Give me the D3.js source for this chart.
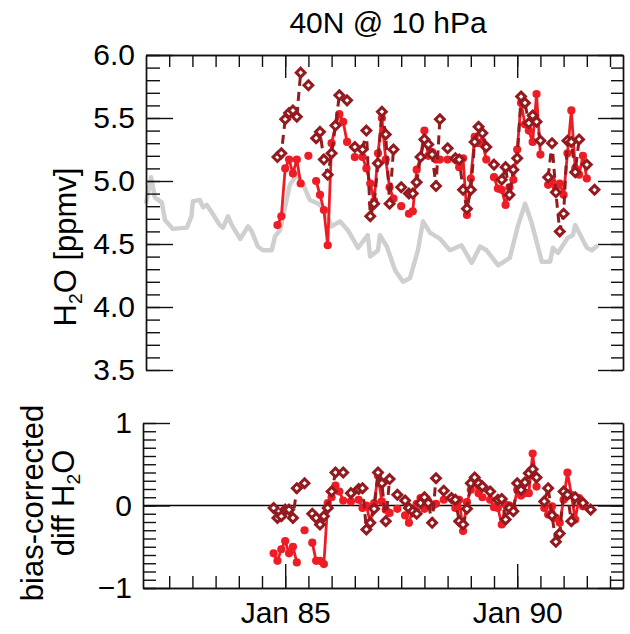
<!DOCTYPE html>
<html>
<head>
<meta charset="utf-8">
<script src="https://cdn.jsdelivr.net/npm/d3@7"></script>
<style>
body { margin: 0; background: #fff; }
svg { display: block; font-family: "Liberation Sans", Arial, Helvetica, sans-serif; }
</style>
</head>
<body>
<svg id="the-svg" width="630" height="634"></svg>
<script>
// monthly series: top panel starts Nov 1984, diff panel one month earlier
var topStart = 1984 + 10 / 12;
var diffStart = 1984 + 9 / 12;

var topRed = [
    4.65, 4.72, 5.10, 5.17, 5.06, 5.17, 4.98, null, 5.20, null,
    5.00, 4.89, 4.77, 4.49, 5.30, 5.44, 5.53, 5.47, 5.31, null,
    5.19, null, 5.19, 5.10, 4.98, 4.84, 5.22, 5.50, 5.17, 4.95,
    4.86, null, 4.80, null, 4.74, 4.76, 5.09, 5.19, 5.40, 5.20,
    5.23, 5.17, 5.17, null, 5.17, null, 5.17, 5.11, 5.18, 4.73,
    5.02, 5.35, 5.30, 5.31, 5.17, null, 5.03, 4.94, 4.93, 4.81,
    4.95, 5.01, 5.25, 5.62, 5.45, 5.40, 5.31, 5.69, 5.21, null,
    4.97, 5.00, 4.95, 4.98, 4.89, 5.22, 5.56, 5.10, 5.05, 5.20,
    5.02, null, null
];
var topDark = [
    5.19, 5.22, 5.49, 5.54, 5.56, 5.51, 5.86, null, 5.76, null,
    5.34, 5.39, 5.17, 5.05, 5.22, 5.44, 5.68, null, 5.64, null,
    5.27, null, 5.25, 5.40, 4.72, 4.82, 5.14, 5.55, 5.37, 4.82,
    5.25, null, 4.95, null, 4.90, 4.90, 4.99, 5.19, 5.33, 5.29,
    5.21, 4.96, 5.49, null, 5.26, null, 5.18, 5.17, 4.93, 4.78,
    4.93, 5.31, 5.43, 5.38, 5.27, null, 5.13, null, 5.01, 5.11,
    4.89, 5.09, 5.18, 5.67, 5.62, 5.46, 5.52, 5.47, 5.32, null,
    5.03, 5.30, 4.91, 4.60, 4.74, 5.32, 5.31, 5.07, 5.33, null,
    5.13, null, 4.93
];
var diffRed = [
    -0.58, -0.67, -0.53, -0.43, -0.58, -0.50, -0.69, null, -0.30, null,
    -0.45, -0.67, -0.67, -0.71, 0.03, 0.10, 0.24, 0.17, 0.06, null,
    0.05, null, 0.07, -0.03, 0.00, -0.21, 0.03, 0.36, 0.05, -0.05,
    -0.09, null, -0.04, null, -0.12, -0.21, -0.05, 0.02, 0.09, -0.04,
    0.05, -0.01, 0.02, null, 0.07, null, 0.09, -0.03, 0.07, -0.31,
    0.04, 0.19, 0.27, 0.15, 0.10, null, 0.07, -0.02, -0.03, -0.23,
    0.01, 0.00, -0.05, 0.19, 0.12, 0.15, 0.15, 0.63, 0.23, null,
    -0.03, -0.11, -0.01, -0.15, -0.21, 0.07, 0.40, 0.13, -0.17, 0.09,
    -0.01, null, null
];
var diffDark = [
    -0.03, -0.15, -0.13, -0.05, -0.05, -0.15, 0.21, null, 0.27, null,
    -0.10, -0.15, -0.23, -0.13, -0.03, 0.17, 0.40, null, 0.40, null,
    0.15, null, 0.20, 0.21, -0.29, -0.21, -0.04, 0.40, 0.27, -0.19,
    0.32, null, 0.13, null, 0.06, -0.03, -0.07, -0.10, 0.03, 0.10,
    0.03, -0.21, 0.33, null, 0.18, null, 0.09, 0.07, -0.19, -0.23,
    -0.04, 0.27, 0.34, 0.27, 0.23, null, 0.17, null, 0.07, 0.08,
    -0.17, -0.03, -0.07, 0.27, 0.19, 0.28, 0.39, 0.44, 0.34, null,
    0.05, 0.21, -0.12, -0.44, -0.34, 0.17, 0.13, -0.19, 0.10, null,
    0.03, null, -0.05
];

// grey background curve (decimal year, ppmv)
var grayYears = [
    1982.00, 1982.11, 1982.19, 1982.34, 1982.41, 1982.58, 1982.88, 1982.98, 1983.01, 1983.16,
    1983.23, 1983.31, 1983.42, 1983.59, 1983.66, 1983.77, 1983.85, 1984.03, 1984.20, 1984.28,
    1984.41, 1984.52, 1984.71, 1984.78, 1984.89, 1985.10, 1985.25, 1985.38, 1985.53, 1985.71,
    1985.84, 1986.00, 1986.18, 1986.35, 1986.57, 1986.78, 1986.83, 1987.00, 1987.04, 1987.19,
    1987.37, 1987.54, 1987.69, 1987.86, 1987.97, 1988.12, 1988.34, 1988.55, 1988.80, 1989.02,
    1989.20, 1989.34, 1989.59, 1989.84, 1990.02, 1990.17, 1990.31, 1990.53, 1990.71, 1990.77,
    1990.88, 1991.09, 1991.20, 1991.25, 1991.50, 1991.61, 1991.74
];
var grayValues = [
    4.82, 5.03, 4.87, 4.83, 4.69, 4.62, 4.63, 4.72, 4.84, 4.85,
    4.79, 4.81, 4.75, 4.65, 4.63, 4.72, 4.65, 4.54, 4.64, 4.60,
    4.48, 4.45, 4.45, 4.56, 4.61, 4.97, 5.05, 4.98, 4.85, 4.82,
    4.78, 4.64, 4.68, 4.61, 4.47, 4.57, 4.40, 4.45, 4.57, 4.48,
    4.29, 4.20, 4.23, 4.45, 4.68, 4.59, 4.54, 4.45, 4.49, 4.35,
    4.48, 4.45, 4.33, 4.39, 4.65, 4.82, 4.67, 4.36, 4.36, 4.47,
    4.43, 4.55, 4.57, 4.65, 4.47, 4.45, 4.49
];

var topMajor = [3.5, 4.0, 4.5, 5.0, 5.5, 6.0];
var diffMajor = [-1, 0, 1];
var yearMajor = [1985, 1990];
var yearLabels = ["Jan 85", "Jan 90"];

var red = "#ee1c25";
var darkRed = "#931a1e";
var theSvg = d3.select("#the-svg");

var x = d3.scaleLinear().domain([1982, 1992.28]).range([146, 623]);
var xDiff = x.copy().domain([x.invert(143), 1992.28]).range([143, 623]);
var yTop = d3.scaleLinear().domain([3.5, 6.0]).range([370, 55]);
var yDiff = d3.scaleLinear().domain([-1, 1]).range([588, 423]);

var toPoints = function(values, start) {
    return values.map(function(v, i) {
        return {t: start + i / 12, v: v};
    });
};

var halfYears = d3.range(1982.5, 1992.1, 0.5);

var styleAxis = function(g) {
    g.selectAll("path.domain").attr("stroke", "#111").attr("stroke-width", 1.4);
    g.selectAll(".tick line").attr("stroke", "#111").attr("stroke-width", 1.4);
    g.selectAll("text").attr("font-size", 30).attr("fill", "#000")
        .attr("font-family", "Liberation Sans, Arial, sans-serif");
};

// vertical axis pair (labelled left, bare right) for one panel
var drawYAxes = function(y, major, minorStep, leftX, fmt, majorLen, minorLen) {
    var minor = d3.range(y.domain()[0], y.domain()[1] + 1e-6, minorStep);
    theSvg.append("g")
        .attr("transform", "translate(" + leftX + ",0)")
        .call(d3.axisLeft(y).tickValues(minor).tickSize(-minorLen).tickSizeOuter(0).tickFormat(""))
        .call(styleAxis);
    theSvg.append("g")
        .attr("transform", "translate(" + leftX + ",0)")
        .call(d3.axisLeft(y).tickValues(major).tickSize(-majorLen).tickSizeOuter(0)
            .tickPadding(11).tickFormat(fmt))
        .call(styleAxis);
    theSvg.append("g")
        .attr("transform", "translate(623,0)")
        .call(d3.axisRight(y).tickValues(minor).tickSize(-12).tickSizeOuter(0).tickFormat(""))
        .call(styleAxis);
    theSvg.append("g")
        .attr("transform", "translate(623,0)")
        .call(d3.axisRight(y).tickValues(major).tickSize(-25).tickSizeOuter(0).tickFormat(""))
        .call(styleAxis);
};

var diamond = function(s) {
    return "M0," + (-s) + "L" + s + ",0L0," + s + "L" + (-s) + ",0Z";
};

// one red (dots, solid) + one dark red (diamonds, dashed) pair
var drawSeries = function(x, y, redVals, darkVals, start) {
    var redPts = toPoints(redVals, start);
    var darkPts = toPoints(darkVals, start);
    var line = d3.line()
        .defined(function(d) { return d.v !== null; })
        .x(function(d) { return x(d.t); })
        .y(function(d) { return y(d.v); });

    theSvg.append("path")
        .datum(redPts)
        .attr("fill", "none")
        .attr("stroke", red)
        .attr("stroke-width", 2.8)
        .attr("d", line);
    theSvg.append("g").selectAll("circle")
        .data(redPts.filter(function(d) { return d.v !== null; }))
        .enter().append("circle")
            .attr("cx", function(d) { return x(d.t); })
            .attr("cy", function(d) { return y(d.v); })
            .attr("r", 4.1)
            .attr("fill", red);

    theSvg.append("path")
        .datum(darkPts)
        .attr("fill", "none")
        .attr("stroke", darkRed)
        .attr("stroke-width", 3)
        .attr("stroke-dasharray", "9,6")
        .attr("d", line);
    theSvg.append("g").selectAll("path")
        .data(darkPts.filter(function(d) { return d.v !== null; }))
        .enter().append("path")
            .attr("transform", function(d) {
                return "translate(" + x(d.t) + "," + y(d.v) + ")";
            })
            .attr("d", diamond(4.4))
            .attr("fill", "#fff")
            .attr("stroke", darkRed)
            .attr("stroke-width", 3);
};

// ---- top panel ----
var grayLine = d3.line()
    .x(function(d) { return x(d[0]); })
    .y(function(d) { return yTop(d[1]); });
theSvg.append("path")
    .datum(d3.zip(grayYears, grayValues))
    .attr("fill", "none")
    .attr("stroke", "#cfcfcf")
    .attr("stroke-width", 4.5)
    .attr("stroke-linejoin", "round")
    .attr("d", grayLine);

drawSeries(x, yTop, topRed, topDark, topStart);

drawYAxes(yTop, topMajor, 0.1, 146, d3.format(".1f"), 27, 14);
theSvg.append("g")
    .attr("transform", "translate(0,55)")
    .call(d3.axisTop(x).tickValues(halfYears).tickSize(-12).tickSizeOuter(0).tickFormat(""))
    .call(styleAxis);
theSvg.append("g")
    .attr("transform", "translate(0,55)")
    .call(d3.axisTop(x).tickValues(yearMajor).tickSize(-23).tickSizeOuter(0).tickFormat(""))
    .call(styleAxis);

// ---- difference panel ----
theSvg.append("line")
    .attr("x1", xDiff.range()[0])
    .attr("x2", xDiff.range()[1])
    .attr("y1", yDiff(0))
    .attr("y2", yDiff(0))
    .attr("stroke", "#000")
    .attr("stroke-width", 1.5);

drawSeries(x, yDiff, diffRed, diffDark, diffStart);

drawYAxes(yDiff, diffMajor, 0.1, 143, d3.format("d"), 27, 13);
theSvg.append("g")
    .attr("transform", "translate(0,588)")
    .call(d3.axisBottom(xDiff).tickValues(halfYears).tickSize(-12).tickSizeOuter(0).tickFormat(""))
    .call(styleAxis);
theSvg.append("g")
    .attr("transform", "translate(0,588)")
    .call(d3.axisBottom(xDiff).tickValues(yearMajor).tickSize(-24).tickSizeOuter(0)
        .tickPadding(14)
        .tickFormat(function(d, i) { return yearLabels[i]; }))
    .call(styleAxis);

// ---- titles ----
theSvg.append("text")
    .attr("x", 388)
    .attr("y", 33)
    .attr("text-anchor", "middle")
    .attr("font-size", 30)
    .text("40N @ 10 hPa");

var h2o = function(sel, before, after) {
    sel.append("tspan").text(before + "H");
    sel.append("tspan").attr("font-size", "0.62em").attr("dy", "0.3em").text("2");
    sel.append("tspan").attr("dy", "-0.19em").text("O" + after);
};

theSvg.append("text")
    .attr("transform", "translate(76,247) rotate(-90)")
    .attr("text-anchor", "middle")
    .attr("font-size", 31)
    .call(h2o, "", " [ppmv]");

theSvg.append("text")
    .attr("transform", "translate(43,503) rotate(-90)")
    .attr("text-anchor", "middle")
    .attr("font-size", 31)
    .text("bias-corrected");
theSvg.append("text")
    .attr("transform", "translate(74,503) rotate(-90)")
    .attr("text-anchor", "middle")
    .attr("font-size", 31)
    .call(h2o, "diff ", "");
</script>
</body>
</html>
